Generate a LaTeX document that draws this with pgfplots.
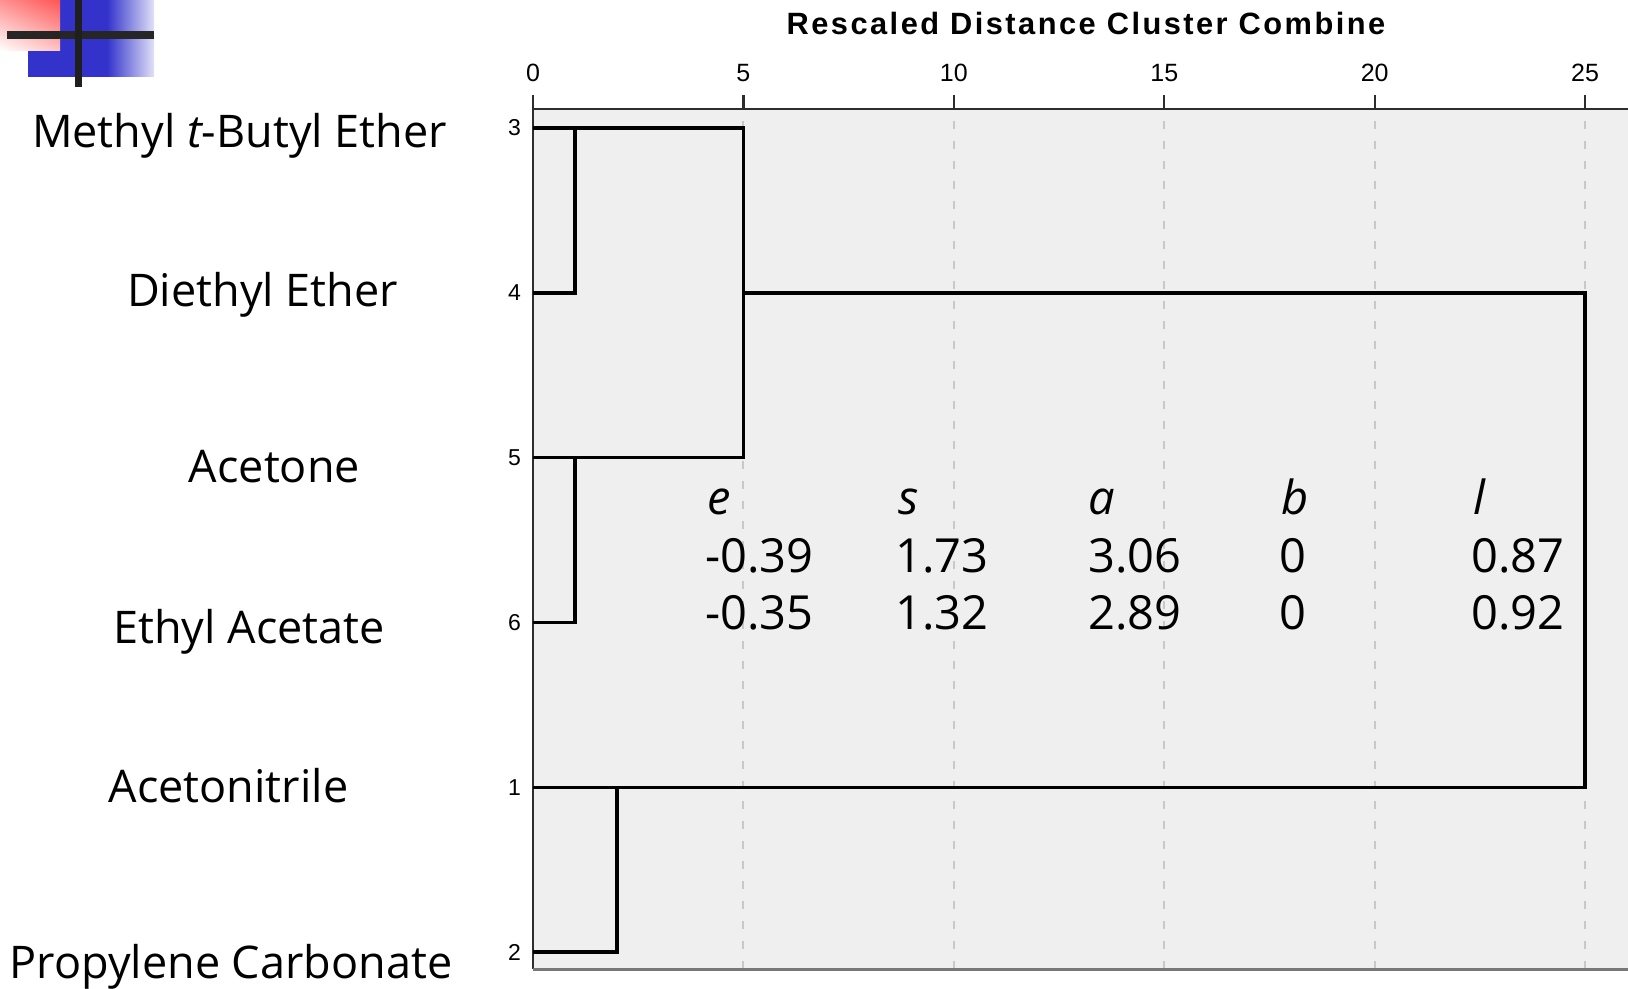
\documentclass[border=0pt]{standalone}
\usepackage{pgfplots}
\pgfplotsset{compat=1.18}
\usetikzlibrary{shadings}
\usepackage{fontspec}
\setmainfont{Liberation Sans}
\newfontfamily\tah{Open Sans}
\newfontfamily\titlefont[LetterSpace=8]{Liberation Sans Bold}
\definecolor{bg}{RGB}{239,239,239}
\definecolor{gridc}{RGB}{200,200,200}
\definecolor{framec}{RGB}{45,45,45}
\definecolor{botc}{RGB}{120,120,120}
\definecolor{logoblue}{RGB}{51,51,204}
\definecolor{logored}{RGB}{255,85,85}
\pgfplotsset{dendro/.style={black, line width=1.7pt, mark=none, line join=miter}}
\begin{document}
\begin{tikzpicture}[x=1pt,y=1pt]
\useasboundingbox (0pt,0pt) rectangle (814pt,-494.5pt);
% logo
\fill[logoblue] (14pt,0pt) rectangle (54pt,-38.5pt);
\shade[left color=logoblue, right color=logoblue!15!white] (53.5pt,0pt) rectangle (77pt,-38.5pt);
\shade[upper left=logored!65!white, upper right=logored, lower left=white, lower right=logored!35!white] (0pt,0pt) rectangle (30pt,-25.5pt);
\fill[black!85] (3.5pt,-15.5pt) rectangle (77pt,-19.5pt);
\fill[black!88] (37.5pt,0pt) rectangle (41pt,-43.5pt);

\begin{axis}[
  at={(266.5pt,-484.5pt)}, anchor=south west,
  scale only axis, width=547.5pt, height=430pt,
  xmin=0, xmax=26.02, ymin=-0.103, ymax=5.1153,
  axis x line=top, axis y line=left,
  axis line style={-, framec, line width=1.1pt},
  axis background/.style={fill=bg},
  clip=false,
  xtick={0,5,10,15,20,25}, ytick={0,1,2,3,4,5}, yticklabels={2,1,6,5,4,3},
  xtick align=outside, major tick length=7pt,
  xtick style={framec, line width=1.1pt},
  ytick style={draw=none},
  xmajorgrids, x grid style={gridc, line width=1pt, dash pattern=on 4pt off 6pt},
  xticklabel style={font=\fontsize{12.5}{15}\selectfont, yshift=3pt},
  yticklabel style={font=\fontsize{11.5}{14}\selectfont, xshift=1pt},
  /pgf/number format/assume math mode=true,
]
\addplot[dendro] coordinates {(0,5) (5,5) (5,3) (0,3)};
\addplot[dendro] coordinates {(0,4) (1,4) (1,5)};
\addplot[dendro] coordinates {(0,2) (1,2) (1,3)};
\addplot[dendro] coordinates {(5,4) (25,4) (25,1) (0,1)};
\addplot[dendro] coordinates {(0,0) (2,0) (2,1)};
\draw[botc, line width=1.5pt] (rel axis cs:0,0) -- (rel axis cs:1,0);
\end{axis}

\node[anchor=base, inner sep=0, font=\titlefont\fontsize{15.4}{18}\selectfont] at (543pt,-17.5pt) {Rescaled Distance Cluster Combine};

\begin{scope}[every node/.style={anchor=base, inner sep=0, font=\tah\fontsize{22.5}{27}\selectfont}]
\node at (119.75pt,-74pt) {Methyl {\itshape t}-Butyl Ether};
\node at (131.25pt,-153.5pt) {Diethyl Ether};
\node at (137.25pt,-241.5pt) {Acetone};
\node at (124.5pt,-321.5pt) {Ethyl Acetate};
\node at (114.25pt,-401pt) {Acetonitrile};
\node at (115.5pt,-489pt) {Propylene Carbonate};
\end{scope}

\begin{scope}[every node/.style={anchor=base west, inner sep=0, font=\tah\fontsize{23.5}{28}\selectfont}]
\node at (353.5pt,-257.5pt) {\itshape e};
\node at (449pt,-257.5pt) {\itshape s};
\node at (544pt,-257.5pt) {\itshape a};
\node at (640.5pt,-257.5pt) {\itshape b};
\node at (736.5pt,-257.5pt) {\itshape l};
\node at (352.5pt,-286.5pt) {-0.39};
\node at (447.5pt,-286.5pt) {1.73};
\node at (544pt,-286.5pt) {3.06};
\node at (639.5pt,-286.5pt) {0};
\node at (735.5pt,-286.5pt) {0.87};
\node at (352.5pt,-314.5pt) {-0.35};
\node at (447.5pt,-314.5pt) {1.32};
\node at (544pt,-314.5pt) {2.89};
\node at (639.5pt,-314.5pt) {0};
\node at (735.5pt,-314.5pt) {0.92};
\end{scope}
\end{tikzpicture}
\end{document}
